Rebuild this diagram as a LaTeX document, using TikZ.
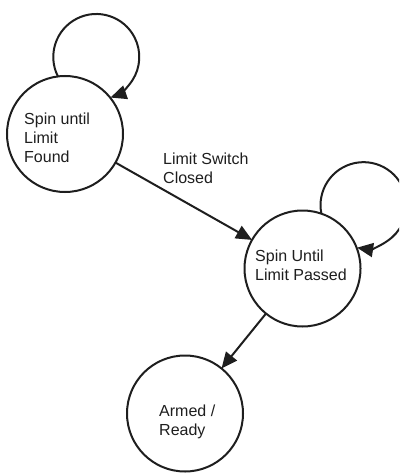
\documentclass[tikz,border=0pt]{standalone}
\usepackage{fontspec}
\setmainfont{Liberation Sans}
\usetikzlibrary{arrows.meta}
\definecolor{ink}{HTML}{1E1E1E}
\begin{document}
\begin{tikzpicture}[x=1pt,y=-1pt,
  state/.style={circle,draw=ink,line width=2pt,minimum size=116pt,inner sep=0pt,outer sep=0pt},
  txt/.style={align=left,anchor=base west,inner sep=0pt,text=ink,font=\fontsize{16}{19}\selectfont},
  edge/.style={draw=ink,line width=2pt,-{Triangle[length=16pt,width=14pt]}}]
\useasboundingbox (0,0) rectangle (399,473);
\clip (0,0) rectangle (399,473);
\node[state] (s1) at (65,134) {};
\node[state] (s2) at (302.5,268.5) {};
\node[state] (s3) at (185,413.5) {};
\node[txt] (t1) at (24,163) {Spin until\\Limit\\Found};
\node[txt] (t2) at (255,280) {Spin Until\\Limit Passed};
\node[txt] (t3) at (159,435.5) {Armed /\\Ready};
\node[txt] (lab) at (163,183.5) {Limit Switch\\Closed};
\draw[edge] (s1) -- (s2);
\draw[edge] (s2) -- (s3);
\draw[edge] (s1.97.3) arc[start angle=153.1,end angle=430.7,radius=43];
\draw[edge] (s2.71.6) arc[start angle=168.6,end angle=458.6,radius=43];
\end{tikzpicture}
\end{document}
